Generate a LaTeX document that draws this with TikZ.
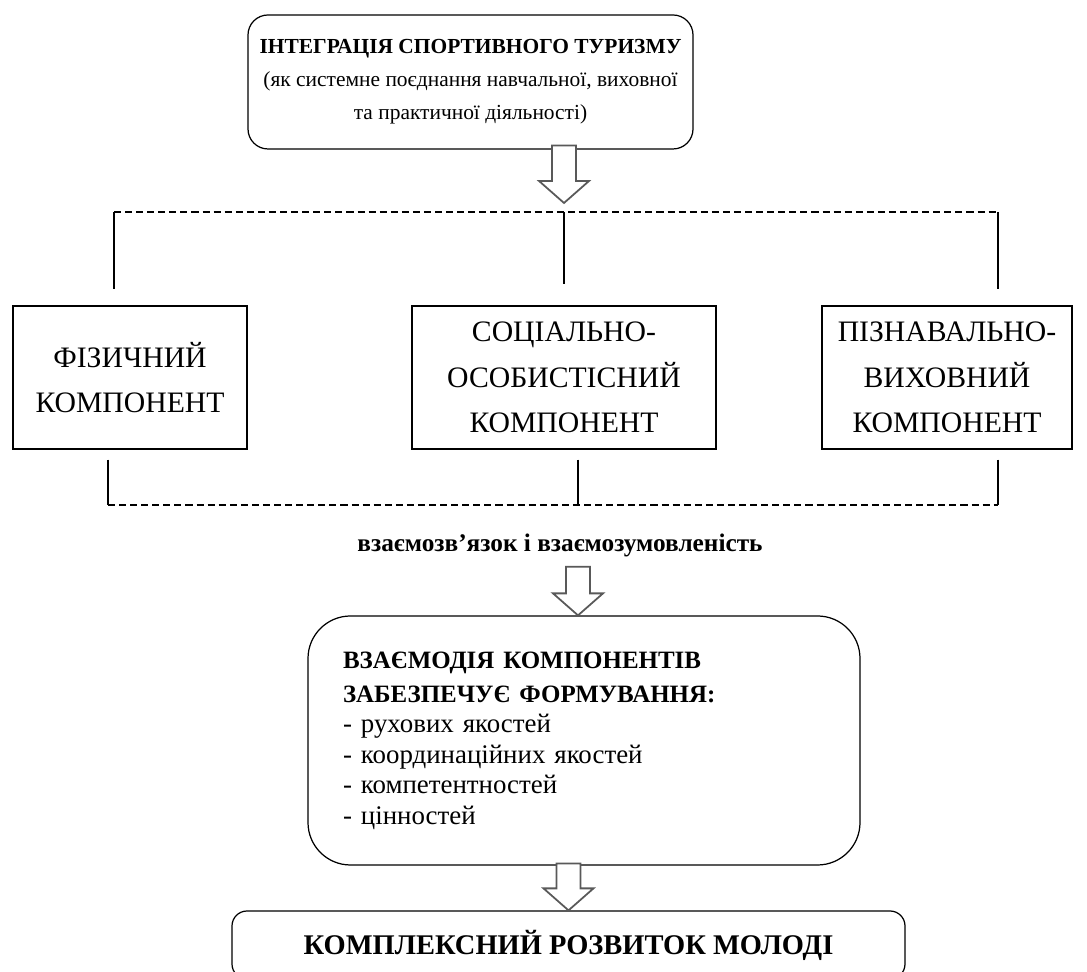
\documentclass[tikz,border=0pt]{standalone}
\usepackage{fontspec}
\setmainfont{Liberation Serif}
\usetikzlibrary{calc}

% hollow block arrow pointing down: #1 top of shaft, #2 tip
\newcommand{\hollowdown}[2]{%
  \draw [hollow] let \p1=#1, \p2=#2 in
    (\x1-0.24cm,\y1) -- (\x1-0.24cm,\y2+0.44cm) -- (\x1-0.5cm,\y2+0.44cm) -- (\x2,\y2)
    -- (\x1+0.5cm,\y2+0.44cm) -- (\x1+0.24cm,\y2+0.44cm) -- (\x1+0.24cm,\y1) -- cycle;}

\begin{document}
\begin{tikzpicture}[
  compbox/.style={draw,line width=0.7pt,minimum height=2.86cm,align=center,inner sep=2pt,
    font=\fontsize{16.9}{26}\selectfont},
  roundbox/.style={draw,line width=0.7pt,rounded corners=#1},
  busline/.style={line width=0.7pt,dash pattern=on 4pt off 2.3pt},
  stem/.style={line width=0.7pt},
  hollow/.style={draw=black!65,line width=1pt,fill=white}
]
\useasboundingbox (0,0) rectangle (21.74,19.44);

% top block
\node [roundbox=0.4cm,minimum width=8.90cm,minimum height=2.68cm,align=center,
  font=\fontsize{12.2}{18.7}\selectfont] (intg) at (9.41,17.80)
  {\textbf{ІНТЕГРАЦІЯ СПОРТИВНОГО ТУРИЗМУ}\\(як системне поєднання навчальної, виховної\\та практичної діяльності)};

% components
\node [compbox,minimum width=4.68cm] (fiz) at (2.60,11.89) {ФІЗИЧНИЙ\\КОМПОНЕНТ};
\node [compbox,minimum width=6.08cm] (soc) at (11.28,11.89) {СОЦІАЛЬНО-\\ОСОБИСТІСНИЙ\\КОМПОНЕНТ};
\node [compbox,minimum width=5.00cm] (piz) at (18.94,11.89) {ПІЗНАВАЛЬНО-\\ВИХОВНИЙ\\КОМПОНЕНТ};

% upper bus
\coordinate (topL) at (2.28,15.20);
\coordinate (topM) at (11.28,15.20);
\coordinate (topR) at (19.96,15.20);
\draw [busline] (topL) -- (topR);
\draw [stem] (topL) -- ($(topL |- fiz.north)+(0,0.32)$);
\draw [stem] (topM) -- ($(topM |- soc.north)+(0,0.42)$);
\draw [stem] (topR) -- ($(topR |- piz.north)+(0,0.32)$);

% lower bus
\coordinate (lowL) at (2.16,9.34);
\coordinate (lowM) at (11.56,9.34);
\coordinate (lowR) at (19.96,9.34);
\draw [busline] (lowL) -- (lowR);
\draw [stem] ($(lowL |- fiz.south)+(0,-0.2)$) -- (lowL);
\draw [stem] ($(lowM |- soc.south)+(0,-0.2)$) -- (lowM);
\draw [stem] ($(lowR |- piz.south)+(0,-0.2)$) -- (lowR);

\node [font=\bfseries\fontsize{14.4}{16}\selectfont] (link) at (11.20,8.54) {взаємозв’язок і взаємозумовленість};

% result blocks
\node [roundbox=0.85cm,minimum height=4.98cm,text width=9.64cm,inner xsep=0.7cm,align=left,
  font=\fontsize{15.3}{17.3}\selectfont] (form) at (11.68,4.63)
  {{\bfseries\fontsize{14.2}{19.5}\selectfont ВЗАЄМОДІЯ КОМПОНЕНТІВ\\ЗАБЕЗПЕЧУЄ ФОРМУВАННЯ:\\}- рухових якостей\\- координаційних якостей\\- компетентностей\\- цінностей};
\node [roundbox=0.3cm,minimum width=13.46cm,minimum height=1.36cm,
  font=\bfseries\fontsize{16.2}{18}\selectfont] (dev) at (11.37,0.54) {КОМПЛЕКСНИЙ РОЗВИТОК МОЛОДІ};

% block arrows
\hollowdown{($(intg.south -| topM)+(0,0.08)$)}{($(topM)+(0,0.18)$)}
\hollowdown{($(link.south -| lowM)+(0,-0.08)$)}{(lowM |- form.north)}
\hollowdown{($(form.south -| dev.north)+(0,0.04)$)}{(dev.north)}
\end{tikzpicture}
\end{document}
